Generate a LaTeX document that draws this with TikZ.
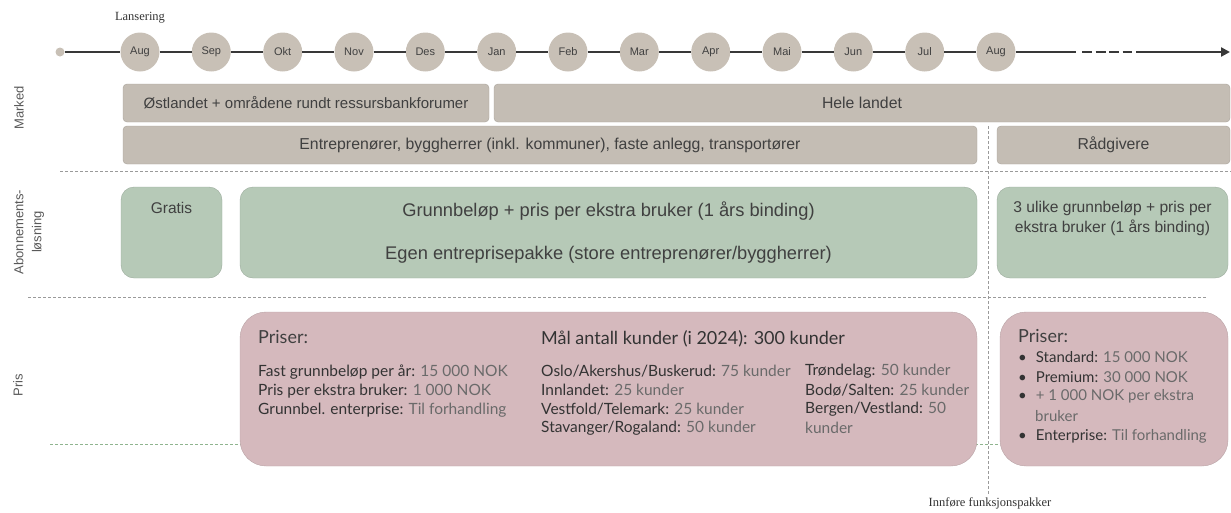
\documentclass[tikz,border=0pt]{standalone}
\usepackage{fontspec}
\setmainfont{Liberation Sans}
\newfontfamily\serifont{Liberation Serif}
\newfontfamily\prisfont{Lato}
\usetikzlibrary{arrows.meta}

\definecolor{circfill}{HTML}{C8C0B6}
\definecolor{markfill}{HTML}{C4BDB4}
\definecolor{markline}{HTML}{A9A39B}
\definecolor{abofill}{HTML}{B6C9B7}
\definecolor{prisfill}{HTML}{D5B9BD}
\definecolor{prisline}{HTML}{B9A3A6}
\definecolor{txt}{HTML}{404040}
\definecolor{labtxt}{HTML}{333333}
\definecolor{valtxt}{HTML}{6A6A6A}
\definecolor{rowgray}{HTML}{9A9A9A}
\definecolor{rowgreen}{HTML}{8FB48F}

\newcommand{\prisval}[1]{{\color{valtxt}#1}}

\tikzset{
  month/.style={circle, fill=circfill, minimum size=39pt, inner sep=0pt, text=txt, font=\fontsize{11}{13}\selectfont},
  tline/.style={line width=2.8pt, draw=black!78},
  markbox/.style={draw=markline, fill=markfill, rounded corners=4pt, inner sep=0pt, minimum height=38pt, text=txt, font=\fontsize{15.8}{18}\selectfont},
  abobox/.style={fill=abofill, draw=abofill!85!black, rounded corners=13pt, inner sep=0pt, minimum height=91pt},
  prisbox/.style={fill=prisfill, draw=prisline, rounded corners=26pt, inner sep=0pt, minimum height=154pt},
  abotext/.style={inner sep=0pt, text=txt, align=center},
  pristext/.style={inner sep=0pt, anchor=west, text=labtxt, font=\prisfont\fontsize{15.5}{18}\selectfont},
  prishead/.style={pristext, text=txt, font=\prisfont\fontsize{18}{21}\selectfont},
  rowlabel/.style={inner sep=0pt, rotate=90, text=black!65, font=\fontsize{13}{18}\selectfont, align=center},
  rowline/.style={draw=rowgray, line width=0.8pt, dash pattern=on 3pt off 2pt},
  note/.style={inner sep=0pt, text=black!80, font=\serifont\fontsize{12.5}{14}\selectfont}
}

\begin{document}
\begin{tikzpicture}[x=1pt, y=-1pt]
        \useasboundingbox (0, 0) rectangle (1231, 512);

        % tidslinje
        \node [circle, fill=circfill, minimum size=9pt, inner sep=0pt] at (60, 52) (start) {};
        \node [month] at (140, 52) (m1) {Aug};
        \node [month] at (211.3, 52) (m2) {Sep};
        \node [month] at (282.7, 52) (m3) {Okt};
        \node [month] at (354, 52) (m4) {Nov};
        \node [month] at (425.3, 52) (m5) {Des};
        \node [month] at (496.7, 52) (m6) {Jan};
        \node [month] at (568, 52) (m7) {Feb};
        \node [month] at (639.3, 52) (m8) {Mar};
        \node [month] at (710.7, 52) (m9) {Apr};
        \node [month] at (782, 52) (m10) {Mai};
        \node [month] at (853.3, 52) (m11) {Jun};
        \node [month] at (924.7, 52) (m12) {Jul};
        \node [month] at (996, 52) (m13) {Aug};
        \coordinate (e1) at (1076, 52);
        \coordinate (d1) at (1082, 52);
        \coordinate (d2) at (1132, 52);
        \coordinate (d3) at (1136, 52);
        \coordinate (tip) at (1230, 52);
        \node [note] at (140, 18) (lansering) {Lansering};

        \draw [tline] (start) -- (m1) -- (m2) -- (m3) -- (m4) -- (m5) -- (m6) -- (m7)
                -- (m8) -- (m9) -- (m10) -- (m11) -- (m12) -- (m13) -- (e1);
        \draw [tline, dash pattern=on 10pt off 3.5pt] (d1) -- (d2);
        \draw [tline, -{Triangle[length=9pt, width=9pt]}] (d3) -- (tip);

        % skillelinjer
        \draw [rowline] (60, 171) -- (1231, 171);
        \draw [rowline] (28, 297) -- (1206, 297);
        \draw [draw=rowgreen, line width=0.8pt, dash pattern=on 3pt off 2pt] (50, 444) -- (1000, 444);
        \draw [rowline] (988, 126) -- (988, 494);

        % marked
        \node [rowlabel] at (19, 108) (marked) {Marked};
        \node [markbox, minimum width=366pt, font=\fontsize{15}{18}\selectfont] at (306, 103) (ost) {Østlandet + områdene rundt ressursbankforumer};
        \node [markbox, minimum width=736pt] at (862, 103) (hele) {Hele landet};
        \node [markbox, minimum width=854pt] at (550, 145) (entr) {Entreprenører, byggherrer (inkl. kommuner), faste anlegg, transportører};
        \node [markbox, minimum width=233pt] at (1113.5, 145) (rad) {Rådgivere};

        % abonnementsløsning
        \node [rowlabel] at (29, 232) (abo) {Abonnements-\\løsning};
        \node [abobox, minimum width=101pt] at (171.5, 232.5) (gratis) {};
        \node [abobox, minimum width=737pt] at (608.5, 232.5) (grunn) {};
        \node [abobox, minimum width=231pt] at (1112.5, 232.5) (tre) {};
        \node [abotext, font=\fontsize{15.5}{18}\selectfont] at (171.5, 208) (gratistxt) {Gratis};
        \node [abotext, font=\fontsize{18.3}{21}\selectfont] at (608.5, 211) (grunntxt) {Grunnbeløp + pris per ekstra bruker (1 års binding)};
        \node [abotext, font=\fontsize{18.3}{21}\selectfont] at (608.5, 255) (egentxt) {Egen entreprisepakke (store entreprenører/byggherrer)};
        \node [abotext, font=\fontsize{15.6}{20}\selectfont] at (1112.5, 218) (tretxt) {3 ulike grunnbeløp + pris per\\ekstra bruker (1 års binding)};

        % pris
        \node [rowlabel] at (18, 385) (pris) {Pris};
        \node [prisbox, minimum width=737pt] at (608.5, 389) (pris1) {};
        \node [prisbox, minimum width=228pt] at (1114, 389) (pris2) {};

        \node [prishead] at (258, 337) (priser1) {Priser:};
        \node [pristext] at (258, 372) (fast) {Fast grunnbeløp per år: \prisval{15 000 NOK}};
        \node [pristext] at (258, 391) (ekstra) {Pris per ekstra bruker: \prisval{1 000 NOK}};
        \node [pristext] at (258, 410) (grunnbel) {Grunnbel. enterprise: \prisval{Til forhandling}};

        \node [prishead, text=labtxt] at (541, 339) (maal) {Mål antall kunder (i 2024): 300 kunder};
        \node [pristext] at (541, 371) (oslo) {Oslo/Akershus/Buskerud: \prisval{75 kunder}};
        \node [pristext] at (541, 390) (innl) {Innlandet: \prisval{25 kunder}};
        \node [pristext] at (541, 409) (vestf) {Vestfold/Telemark: \prisval{25 kunder}};
        \node [pristext] at (541, 428) (stav) {Stavanger/Rogaland: \prisval{50 kunder}};
        \node [pristext] at (805, 371) (trond) {Trøndelag: \prisval{50 kunder}};
        \node [pristext] at (805, 390) (bodo) {Bodø/Salten: \prisval{25 kunder}};
        \node [pristext] at (805, 409) (bergen) {Bergen/Vestland: \prisval{50}};
        \node [pristext] at (805, 428) (bergen2) {\prisval{kunder}};

        \node [prishead] at (1018, 336) (priser2) {Priser:};
        \node [pristext, font=\prisfont\fontsize{15}{18}\selectfont] at (1018, 357) (standard) {•\hspace{9pt}Standard: \prisval{15 000 NOK}};
        \node [pristext, font=\prisfont\fontsize{15}{18}\selectfont] at (1018, 377) (premium) {•\hspace{9pt}Premium: \prisval{30 000 NOK}};
        \node [pristext, font=\prisfont\fontsize{15}{18}\selectfont] at (1018, 396) (pluss) {•\hspace{9pt}\prisval{+ 1 000 NOK per ekstra}};
        \node [pristext, font=\prisfont\fontsize{15}{18}\selectfont] at (1035, 416) (bruker) {\prisval{bruker}};
        \node [pristext, font=\prisfont\fontsize{15}{18}\selectfont] at (1018, 436) (enterprise) {•\hspace{9pt}Enterprise: \prisval{Til forhandling}};

        \node [note] at (990, 503) (innfore) {Innføre funksjonspakker};
        \end{tikzpicture}
\end{document}
